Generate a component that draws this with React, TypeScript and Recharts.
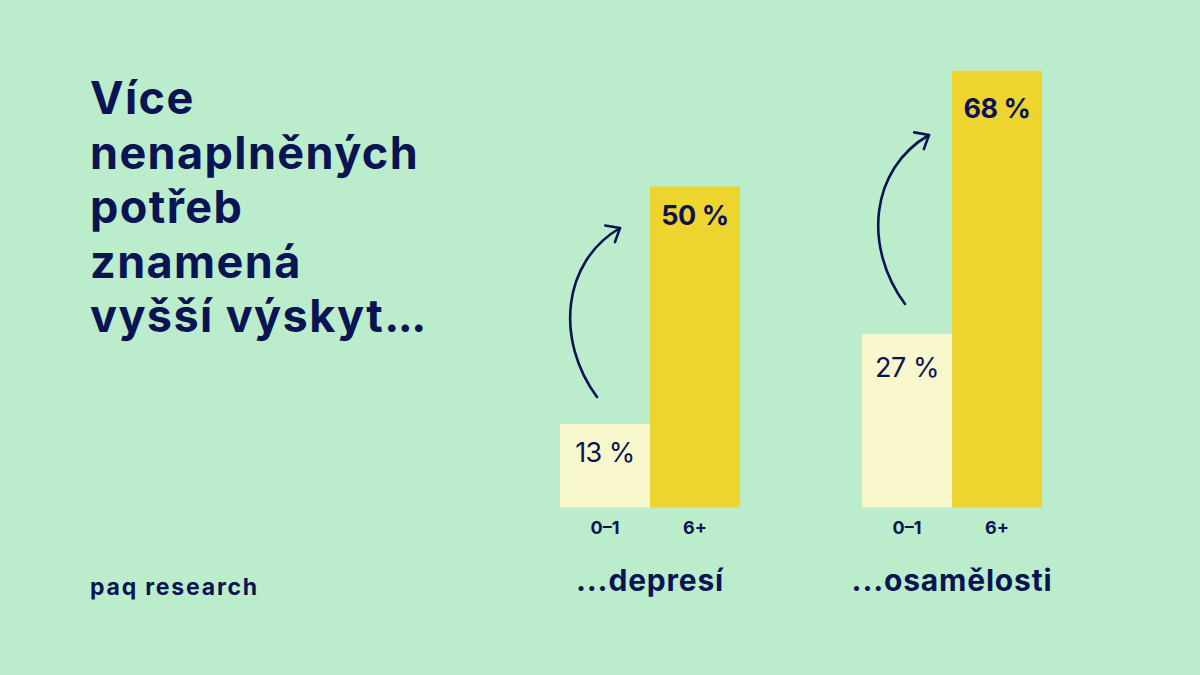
import { BarChart, Bar, XAxis, YAxis, Cell, LabelList } from "recharts"

const categories = ["0–1", "6+"]
const depresiValues = [13, 50]
const osamelostiValues = [27, 68]
const groupTitles = ["...depresí", "...osamělosti"]
const titleLines = ["Více", "nenaplněných", "potřeb", "znamená", "vyšší výskyt..."]

const BG = "#BBEDCD"
const NAVY = "#0B1452"
const LIGHT = "#F8F7CC"
const YELLOW = "#EED42E"
const FONT = "Inter, 'Noto Sans', sans-serif"

const PLOT_H = 449.4
const AXIS_H = 40

function CurvedArrow({ from, c1, c2, to }: { from: number[]; c1: number[]; c2: number[]; to: number[] }) {
  // arrowhead follows the tangent at the end of the curve
  const dx = to[0] - c2[0]
  const dy = to[1] - c2[1]
  const len = Math.hypot(dx, dy)
  const bx = -dx / len
  const by = -dy / len
  const a = (40 * Math.PI) / 180
  const arm = 15
  const p1 = [to[0] + arm * (bx * Math.cos(a) - by * Math.sin(a)), to[1] + arm * (bx * Math.sin(a) + by * Math.cos(a))]
  const p2 = [to[0] + arm * (bx * Math.cos(a) + by * Math.sin(a)), to[1] + arm * (-bx * Math.sin(a) + by * Math.cos(a))]
  return (
    <g fill="none" stroke={NAVY} strokeWidth={2.6} strokeLinecap="round" strokeLinejoin="round">
      <path d={`M${from[0]},${from[1]} C${c1[0]},${c1[1]} ${c2[0]},${c2[1]} ${to[0]},${to[1]}`} />
      <path d={`M${p1[0]},${p1[1]} L${to[0]},${to[1]} L${p2[0]},${p2[1]}`} />
    </g>
  )
}

// trailing dots are set tighter than the rest of the headline
function TitleLine({ text }: { text: string }) {
  if (!text.endsWith("...")) return <div>{text}</div>
  return (
    <div>
      {text.slice(0, -3)}
      <span style={{ letterSpacing: -1.5 }}>...</span>
    </div>
  )
}

function GroupChart({ values, title, left, labelOffsets }: { values: number[]; title: string; left: number; labelOffsets: number[] }) {
  const data = categories.map((c, i) => ({ category: c, value: values[i] }))
  return (
    <div style={{ position: "absolute", left, top: 507 - PLOT_H, width: 180 }}>
      <BarChart width={180} height={PLOT_H + AXIS_H} data={data} barCategoryGap={0} margin={{ top: 0, right: 0, bottom: 0, left: 0 }}>
        <YAxis hide domain={[0, 70]} />
        <XAxis
          dataKey="category"
          height={AXIS_H}
          axisLine={false}
          tickLine={false}
          tickSize={0}
          tickMargin={14}
          tick={{ fill: NAVY, fontSize: 18, fontWeight: 700, fontFamily: FONT }}
        />
        <Bar dataKey="value" isAnimationActive={false}>
          {data.map((d, i) => (
            <Cell key={d.category} fill={i === 0 ? LIGHT : YELLOW} />
          ))}
          <LabelList
            dataKey="value"
            content={(p: any) => {
              const i = p.index ?? 0
              return (
                <text
                  x={p.x + p.width / 2}
                  y={p.y + labelOffsets[i]}
                  textAnchor="middle"
                  dominantBaseline="central"
                  fill={NAVY}
                  fontSize={27}
                  fontWeight={i === 0 ? 400 : 700}
                  fontFamily={FONT}
                  letterSpacing={-0.5}
                >
                  {`${p.value} %`}
                </text>
              )
            }}
          />
        </Bar>
      </BarChart>
      <div
        style={{
          display: "flex",
          justifyContent: "center",
          whiteSpace: "nowrap",
          marginTop: 15,
          color: NAVY,
          fontFamily: FONT,
          fontWeight: 700,
          fontSize: 30,
          letterSpacing: 0.8,
        }}
      >
        {title}
      </div>
    </div>
  )
}

export default function App() {
  return (
    <div style={{ position: "absolute", left: 0, top: 0, width: 1200, height: 675, background: BG, overflow: "hidden", fontFamily: FONT }}>
      <div style={{ position: "absolute", left: 90, top: 71, color: NAVY, fontSize: 45, fontWeight: 700, lineHeight: "54.5px", letterSpacing: 1.4 }}>
        {titleLines.map((line) => (
          <TitleLine key={line} text={line} />
        ))}
      </div>
      <div style={{ position: "absolute", left: 90, top: 573, color: NAVY, fontSize: 23, fontWeight: 700, letterSpacing: 1.8 }}>
        paq research
      </div>

      <GroupChart values={depresiValues} title={groupTitles[0]} left={560} labelOffsets={[29, 29]} />
      <GroupChart values={osamelostiValues} title={groupTitles[1]} left={862} labelOffsets={[33, 38]} />

      <svg width={1200} height={675} style={{ position: "absolute", left: 0, top: 0, pointerEvents: "none" }}>
        <CurvedArrow from={[597, 397]} c1={[555, 340]} c2={[562, 262]} to={[620, 228]} />
        <CurvedArrow from={[905, 304]} c1={[863, 247]} c2={[870, 169]} to={[929, 135]} />
      </svg>
    </div>
  )
}
